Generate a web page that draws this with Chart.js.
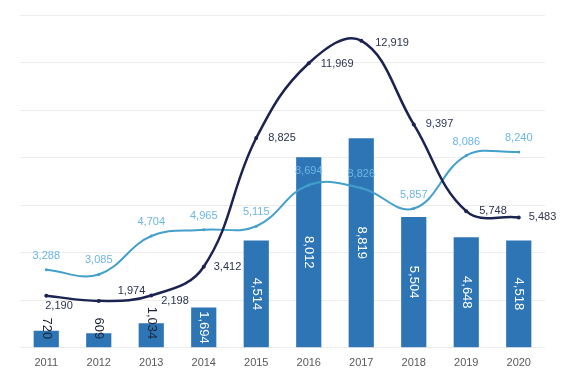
<!DOCTYPE html>
<html>
<head>
<meta charset="utf-8">
<script src="https://cdn.jsdelivr.net/npm/chart.js@4.4.0/dist/chart.umd.min.js"></script>
<style>
  html, body { margin: 0; padding: 0; background: #fff; }
  #wrap { width: 580px; height: 376px; }
</style>
</head>
<body>
<div id="wrap"><canvas id="chart" width="580" height="376"></canvas></div>
<script>
// ------------------- DATA -------------------
const years = ["2011", "2012", "2013", "2014", "2015", "2016", "2017", "2018", "2019", "2020"];
const barValues = [720, 609, 1034, 1694, 4514, 8012, 8819, 5504, 4648, 4518];
const darkLineValues = [2190, 1974, 2198, 3412, 8825, 11969, 12919, 9397, 5748, 5483];
// the light line sits lower than its printed labels in 2016/2017, so labels are kept apart
const lightLineValues = [3288, 3085, 4704, 4965, 5115, 6850, 6720, 5857, 8086, 8240];
const lightLineLabels = ["3,288", "3,085", "4,704", "4,965", "5,115", "8,694", "8,826", "5,857", "8,086", "8,240"];
const yMin = 0, yMax = 14000, yStep = 2000;

const fmt = v => v.toLocaleString("en-US");

// ------------------- LABEL PLUGIN -------------------
const valueLabels = {
    id: "valueLabels",
    afterDatasetsDraw(chart) {
        const ctx = chart.ctx;
        chart.data.datasets.forEach((ds, i) => {
            const meta = chart.getDatasetMeta(i);
            const lbl = ds.valueLabel;
            if (!lbl) return;
            ctx.save();
            ctx.font = lbl.font;
            meta.data.forEach((el, j) => {
                const text = lbl.texts ? lbl.texts[j] : fmt(ds.data[j]);
                if (lbl.kind === "bar") {
                    const w = ctx.measureText(text).width;
                    const h = el.base - el.y;
                    let cy = (el.y + el.base) / 2;
                    let color = lbl.color;
                    if (w + 6 > h) {
                        cy = el.base - w / 2 - 8;
                        color = lbl.overflowColor;
                    }
                    ctx.save();
                    ctx.translate(el.x, cy);
                    ctx.rotate(Math.PI / 2);
                    ctx.fillStyle = color;
                    ctx.textAlign = "center";
                    ctx.textBaseline = "middle";
                    ctx.fillText(text, 0, 0);
                    ctx.restore();
                } else {
                    const off = lbl.offsets ? lbl.offsets[j] : [0, 0];
                    ctx.fillStyle = lbl.color;
                    ctx.textAlign = lbl.align;
                    ctx.textBaseline = "middle";
                    ctx.fillText(text, el.x + off[0], el.y + off[1]);
                }
            });
            ctx.restore();
        });
    }
};

// ------------------- CHART -------------------
const ctx = document.getElementById("chart").getContext("2d");

new Chart(ctx, {
    type: "bar",
    data: {
        labels: years,
        datasets: [
            {
                type: "line",
                data: darkLineValues,
                borderColor: "#1b2350",
                backgroundColor: "#1b2350",
                borderWidth: 2.5,
                pointRadius: 2,
                pointBorderWidth: 0,
                tension: 0.4,
                valueLabel: {
                    font: "11px 'Liberation Sans', Arial, sans-serif",
                    color: "#2b3350",
                    align: "left",
                    offsets: [[-1, 10], [19, -10], [10, 5], [10, 0], [12, 0], [12, 1], [14, 2], [12, 0], [13, 0], [10, 0]]
                }
            },
            {
                type: "line",
                data: lightLineValues,
                borderColor: "#42a0cb",
                backgroundColor: "#42a0cb",
                borderWidth: 2,
                pointRadius: 1.5,
                pointBorderWidth: 0,
                tension: 0.4,
                valueLabel: {
                    font: "11px 'Liberation Sans', Arial, sans-serif",
                    color: "#6cb6e4",
                    align: "center",
                    texts: lightLineLabels,
                    offsets: lightLineValues.map(() => [0, -14])
                }
            },
            {
                type: "bar",
                data: barValues,
                backgroundColor: "#2e75b6",
                barPercentage: 0.96,
                categoryPercentage: 0.5,
                valueLabel: {
                    kind: "bar",
                    font: "13px 'Liberation Sans', Arial, sans-serif",
                    color: "#ffffff",
                    overflowColor: "#1f2433"
                }
            }
        ]
    },
    options: {
        responsive: false,
        animation: false,
        layout: { padding: { left: 20, right: 35, top: 15, bottom: -3 } },
        plugins: {
            legend: { display: false },
            tooltip: { enabled: false }
        },
        scales: {
            x: {
                grid: { display: false, drawTicks: false },
                border: { display: false },
                ticks: {
                    color: "#595959",
                    padding: 9,
                    font: { family: "'Liberation Sans', Arial, sans-serif", size: 11 }
                }
            },
            y: {
                min: yMin,
                max: yMax,
                ticks: { display: false, stepSize: yStep },
                grid: { color: "#ececec", drawTicks: false, lineWidth: 1 },
                border: { display: false }
            }
        }
    },
    plugins: [valueLabels]
});
</script>
</body>
</html>
